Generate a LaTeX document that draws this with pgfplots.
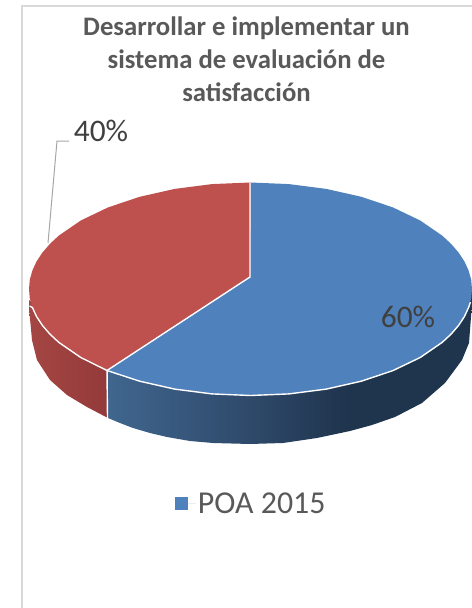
\documentclass[border=0pt]{standalone}
\usepackage{fontspec}
\setmainfont{Carlito}
\usepackage{pgfplots}
\pgfplotsset{compat=1.18}
\definecolor{pieblue}{HTML}{4F81BD}
\definecolor{piered}{HTML}{BE504D}
\definecolor{bw1}{HTML}{40668F}
\definecolor{bw2}{HTML}{2F4A6B}
\definecolor{bw3}{HTML}{1F344D}
\definecolor{rw1}{HTML}{A44643}
\definecolor{rw2}{HTML}{943A3A}
\definecolor{titlegray}{HTML}{595959}
\definecolor{labelgray}{HTML}{404040}
\definecolor{framegray}{HTML}{D9D9D9}
\definecolor{leadergray}{HTML}{A6A6A6}
\pgfdeclarehorizontalshading{bluewall}{100bp}{color(0bp)=(bw1); color(25bp)=(bw1); color(44bp)=(bw2); color(58bp)=(bw3); color(100bp)=(bw3)}
\pgfdeclarehorizontalshading{redwall}{100bp}{color(0bp)=(rw1); color(25bp)=(rw1); color(75bp)=(rw2); color(100bp)=(rw2)}
\begin{document}
\begin{tikzpicture}
\begin{axis}[
  width=472bp, height=608bp, scale only axis,
  xmin=0, xmax=472, ymin=0, ymax=608, y dir=reverse,
  axis lines=none,
  legend style={at={(axis cs:175,503.5)}, anchor=west, draw=none, fill=none,
    font=\fontsize{32}{32}\selectfont\color{titlegray}, inner sep=0pt, outer sep=0pt},
  legend image code/.code={\fill[pieblue] (0bp,-6bp) rectangle (13bp,6.5bp); \path (0bp,0bp) -- (21bp,0bp);},
  legend cell align=left,
]
% side walls
\addplot[draw=none, shading=redwall, forget plot] coordinates {
  (29,300) (29,308) (32,340) (37,360) (50,380) (67,395) (87,407) (107,417.5) (107,360)
} --cycle;
\addplot[draw=none, shading=bluewall, forget plot] coordinates {
  (108,360) (108,418) (120,423) (133,428) (150,433) (167,437) (190,441) (213,443) (250,444)
  (283,443) (317,438) (350,431) (372,425) (395,417) (422,403) (445,383) (462,360) (469,343)
  (471,317) (472,303) (472,290) (250,290)
} --cycle;
% top face, 60 %
\addplot[draw=none, fill=pieblue] coordinates {
  (250,277) (250.5,182.5) (289,184.1) (326.3,188.9) (361.3,196.8) (392.9,207.4) (420.2,220.5)
  (442.3,235.7) (451.2,244) (458.6,252.6) (464.4,261.4) (468.6,270.5) (471.2,279.7) (472,289)
  (471.2,298.3) (468.6,307.5) (464.4,316.6) (458.6,325.4) (451.2,334) (442.3,342.3) (420.2,357.5)
  (392.9,370.6) (361.3,381.2) (326.3,389.1) (289,393.9) (250.5,395.5) (212,393.9) (174.7,389.1)
  (139.7,381.2) (107,370.5)
} --cycle;
\addlegendentry{POA 2015}
% top face, 40 %
\addplot[draw=none, fill=piered, forget plot] coordinates {
  (250,277) (107,370.5) (80.8,357.5) (58.7,342.3) (49.8,334) (42.4,325.4) (36.6,316.6) (32.4,307.5)
  (29.8,298.3) (29,289) (29.8,279.7) (32.4,270.5) (36.6,261.4) (42.4,252.6) (49.8,244) (58.7,235.7)
  (80.8,220.5) (108.1,207.4) (139.7,196.8) (174.7,188.9) (212,184.1) (250.5,182.5)
} --cycle;
% white borders
\addplot[white, line width=1.4bp, forget plot] coordinates {
  (29.6,306) (32.4,307.5) (36.6,316.6) (42.4,325.4) (49.8,334) (58.7,342.3) (80.8,357.5) (107,370.5)
  (139.7,381.2) (174.7,389.1) (212,393.9) (250.5,395.5) (289,393.9) (326.3,389.1) (361.3,381.2)
  (392.9,370.6) (420.2,357.5) (442.3,342.3) (451.2,334) (458.6,325.4) (464.4,316.6) (468.6,307.5) (470.5,302)
};
\addplot[white, line width=1.4bp, forget plot] coordinates {(250,183) (250,277) (107,370.5) (107.5,418)};
% leader line of the 40 % label
\addplot[leadergray, line width=1bp, forget plot] coordinates {(69,141) (57,141) (48,243)};
\node[anchor=base, font=\fontsize{26.8}{27}\selectfont\bfseries, text=titlegray] at (axis cs:246.5,36) {Desarrollar e implementar un};
\node[anchor=base, font=\fontsize{26.8}{27}\selectfont\bfseries, text=titlegray] at (axis cs:246.5,68.5) {sistema de evaluación de};
\node[anchor=base, font=\fontsize{26.8}{27}\selectfont\bfseries, text=titlegray] at (axis cs:246.5,101) {satisfacción};
\node[anchor=base, font=\fontsize{31.5}{32}\selectfont, text=labelgray] at (axis cs:101,141) {40\%};
\node[anchor=base, font=\fontsize{31.5}{32}\selectfont, text=labelgray] at (axis cs:408,327) {60\%};
\draw[framegray, line width=1.6bp] (axis cs:22,608) -- (axis cs:22,6) -- (axis cs:472,6);
\end{axis}
\pgfresetboundingbox
\path[use as bounding box] (0,0) rectangle (472bp,608bp);
\end{tikzpicture}
\end{document}
